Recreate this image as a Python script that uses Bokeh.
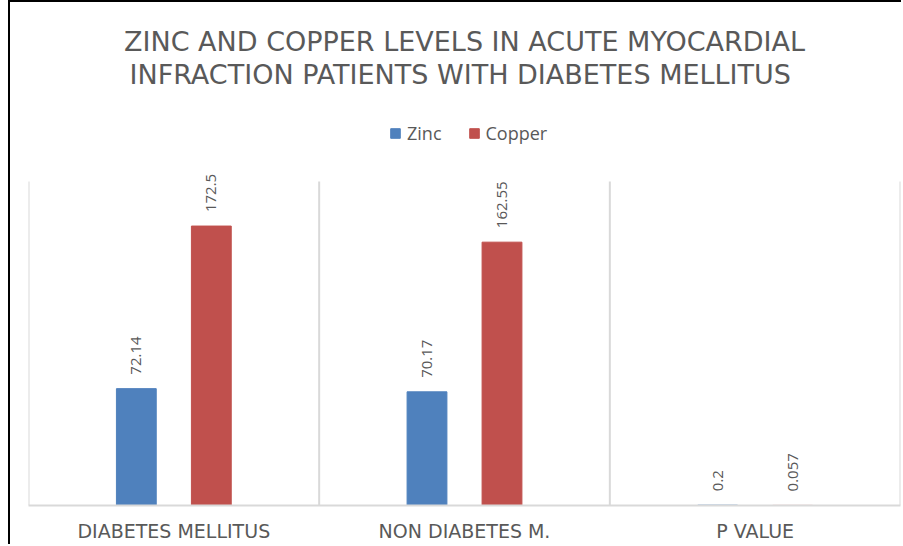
from math import pi
from bokeh.plotting import figure
from bokeh.models import (ColumnDataSource, FactorRange, Range1d, LabelSet, Legend,
                          LegendItem, Label)
from bokeh.core.properties import value
from bokeh.transform import dodge
from bokeh.embed import file_html
from bokeh.resources import INLINE

categories = ["DIABETES MELLITUS", "NON DIABETES M.", "P VALUE"]
zinc = [72.14, 70.17, 0.2]
copper = [172.5, 162.55, 0.057]
zinc_labels = ["72.14", "70.17", "0.2"]
copper_labels = ["172.5", "162.55", "0.057"]
title_lines = ["ZINC AND COPPER LEVELS IN ACUTE MYOCARDIAL",
               "INFRACTION  PATIENTS WITH DIABETES MELLITUS"]
Y_MAX = 200
boundaries = [0, 1, 2, 3]

ZINC_C = "#4F81BD"
COPPER_C = "#C0504D"
GRAY = "#595959"
GRID = "#D9D9D9"
FONT = "Open Sans"
TFONT = "DejaVu Sans"

W, H = 893, 544
BL, BR, BB = 18, 3, 41
FW, FH = W - BL - BR, H - BB
PLOT_H = 324  # pixel height of the 0..Y_MAX value area

src = ColumnDataSource(dict(cat=categories, zinc=zinc, copper=copper,
                            zl=zinc_labels, cl=copper_labels))

p = figure(width=W, height=H, x_range=FactorRange(*categories, range_padding=0),
           y_range=Range1d(0, Y_MAX * FH / PLOT_H), output_backend="svg",
           toolbar_location=None, min_border_left=BL, min_border_right=BR,
           min_border_top=0, min_border_bottom=BB)
p.outline_line_color = None
p.yaxis.visible = False
p.xgrid.grid_line_color = None
p.ygrid.grid_line_color = None

p.segment(x0=boundaries, x1=boundaries, y0=[0] * 4, y1=[Y_MAX] * 4,
          line_color=GRID, line_width=2)

off = 0.129
w = 0.137
rz = p.vbar(x=dodge("cat", -off, range=p.x_range), top="zinc", width=w, source=src,
            fill_color=ZINC_C, line_color=ZINC_C)
rc = p.vbar(x=dodge("cat", off, range=p.x_range), top="copper", width=w, source=src,
            fill_color=COPPER_C, line_color=COPPER_C)

for col, lab, d in [("zinc", "zl", -off), ("copper", "cl", off)]:
    p.add_layout(LabelSet(x=dodge("cat", d, range=p.x_range), y=col, text=lab,
                          source=src, angle=pi / 2, y_offset=14, text_align="left",
                          text_baseline="middle", text_font=value(FONT),
                          text_font_size="15px", text_color=GRAY))

ax = p.xaxis[0]
ax.axis_line_color = GRID
ax.axis_line_width = 2
ax.major_tick_line_color = None
ax.minor_tick_line_color = None
ax.major_label_text_font = TFONT
ax.major_label_text_font_size = "19px"
ax.major_label_text_color = GRAY
ax.major_label_standoff = 8

legend = Legend(items=[LegendItem(label="Zinc", renderers=[rz]),
                       LegendItem(label="Copper", renderers=[rc])],
                orientation="horizontal", location=(361, 360),
                glyph_width=12, glyph_height=12, label_text_font=FONT,
                label_text_font_size="18px", label_text_color=GRAY,
                label_standoff=6, spacing=26, border_line_color=None,
                background_fill_alpha=0, padding=0, margin=0)
p.add_layout(legend, "center")

for i, t in enumerate(title_lines):
    p.add_layout(Label(x=FW / 2, y=FH - 39 - 33 * i, x_units="screen", y_units="screen",
                       text=t, text_align="center", text_baseline="middle",
                       text_font=TFONT, text_font_size="27px",
                       text_color=GRAY))

p.styles = {"border-left": "2px solid black", "border-top": "2px solid black",
            "margin-left": "8px"}

open("out.html", "w").write(file_html(p, INLINE))
